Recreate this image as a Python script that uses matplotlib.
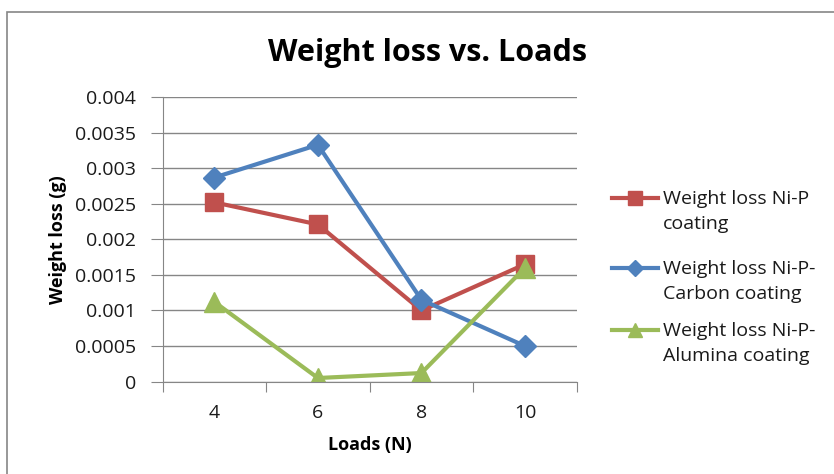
import numpy as np
import matplotlib.pyplot as plt
from matplotlib.lines import Line2D
from matplotlib.patches import Rectangle

plt.rcParams['font.family'] = ['Open Sans', 'DejaVu Sans']

loads = ['4', '6', '8', '10']
ni_p = [0.00252, 0.00221, 0.00100, 0.00165]
ni_p_carbon = [0.00287, 0.00333, 0.00115, 0.00050]
ni_p_alumina = [0.00112, 0.00005, 0.00012, 0.00160]
labels = ['Weight loss Ni-P\ncoating',
          'Weight loss Ni-P-\nCarbon coating',
          'Weight loss Ni-P-\nAlumina coating']

red = '#C0504D'
blue = '#4F81BD'
green = '#9BBB59'
grey = '#868686'
text_col = '#1a1a1a'

fig = plt.figure(figsize=(8.34, 4.74), dpi=100)
# chart area frame
fig.patches.append(Rectangle((7 / 834, -0.1), 1.0, 1 - 12 / 474 + 0.1,
                             transform=fig.transFigure, fill=False,
                             edgecolor=grey, linewidth=1.2))

ax = fig.add_axes([0.195, 0.195, 0.4965, 0.6])
x = np.arange(len(loads))

lines = []
lines += ax.plot(x, ni_p, color=red, lw=3, marker='s', ms=13)
lines += ax.plot(x, ni_p_carbon, color=blue, lw=3, marker='D', ms=11)
lines += ax.plot(x, ni_p_alumina, color=green, lw=3, marker='^', ms=14)

ax.set_xlim(-0.5, 3.5)
ax.set_ylim(0, 0.004)
yt = np.arange(0, 0.00401, 0.0005)
ax.set_yticks(yt)
ax.set_yticklabels(['0', '0.0005', '0.001', '0.0015', '0.002', '0.0025',
                    '0.003', '0.0035', '0.004'], fontsize=14, color=text_col)
ax.yaxis.grid(True, color=grey, lw=1)
ax.set_axisbelow(True)

# category boundaries get the tick marks, labels sit in the middle
ax.set_xticks(np.arange(-0.5, 4, 1))
ax.set_xticklabels([])
ax.set_xticks(x, minor=True)
ax.set_xticklabels(loads, minor=True, fontsize=14, color=text_col)
ax.tick_params(axis='x', which='major', length=7, color=grey)
ax.tick_params(axis='x', which='minor', length=0, pad=16)
ax.tick_params(axis='y', length=9, color=grey, pad=10)

for s in ['top', 'right']:
    ax.spines[s].set_visible(False)
ax.spines['left'].set_color(grey)
ax.spines['bottom'].set_color(grey)

ax.set_xlabel('Loads (N)', fontsize=13, fontweight='bold', labelpad=10)
ax.set_ylabel('Weight loss (g)', fontsize=13, fontweight='bold', labelpad=6)

fig.text(0.512, 0.889, 'Weight loss vs. Loads', ha='center', va='center',
         fontsize=22, fontweight='bold')

# legend: handle sits on the first line of each label
entry_y = [198, 268, 330]
for ln, lab, yy in zip(lines, labels, entry_y):
    yf = 1 - yy / 474
    fig.add_artist(Line2D([612 / 834, 658 / 834], [yf, yf],
                          transform=fig.transFigure, color=ln.get_color(),
                          lw=3))
    fig.add_artist(Line2D([635 / 834], [yf], transform=fig.transFigure,
                          color=ln.get_color(), marker=ln.get_marker(),
                          ms=ln.get_markersize() * 0.75, lw=0))
    fig.text(663 / 834, yf + 0.016, lab, ha='left', va='top', fontsize=14,
             color=text_col, linespacing=1.45)

plt.savefig('out.png', dpi=100)
